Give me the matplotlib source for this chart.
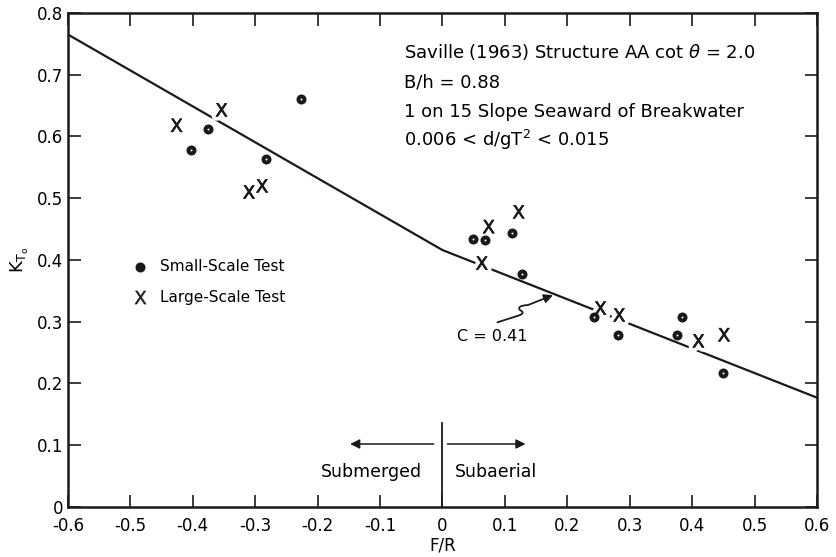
import matplotlib
matplotlib.use("Agg")
import matplotlib.pyplot as plt
import matplotlib.patheffects as pe
from matplotlib.patches import FancyArrowPatch
from matplotlib.path import Path

plt.rcParams['font.family'] = ['DejaVu Sans']

# Small-scale test results (F/R, K_To)
small_fr = [-0.403, -0.376, -0.283, -0.226, 0.049, 0.068, 0.111, 0.128,
            0.243, 0.281, 0.376, 0.384, 0.450]
small_kt = [0.578, 0.612, 0.564, 0.660, 0.434, 0.432, 0.443, 0.377,
            0.308, 0.279, 0.278, 0.308, 0.217]

# Large-scale test results (F/R, K_To)
large_fr = [-0.426, -0.354, -0.310, -0.289, 0.063, 0.074, 0.122,
            0.253, 0.283, 0.410, 0.451]
large_kt = [0.618, 0.643, 0.510, 0.520, 0.395, 0.454, 0.478,
            0.322, 0.311, 0.269, 0.279]

# Design curve for C = 0.41
curve_fr = [-0.6, 0.0, 0.6]
curve_kt = [0.765, 0.416, 0.177]

x_ticks = [-0.6, -0.5, -0.4, -0.3, -0.2, -0.1, 0, 0.1, 0.2, 0.3, 0.4, 0.5, 0.6]
x_labels = ["-0.6", "-0.5", "-0.4", "-0.3", "-0.2", "-0.1", "0",
            "0.1", "0.2", "0.3", "0.4", "0.5", "0.6"]
y_ticks = [0, 0.1, 0.2, 0.3, 0.4, 0.5, 0.6, 0.7, 0.8]
y_labels = ["0", "0.1", "0.2", "0.3", "0.4", "0.5", "0.6", "0.7", "0.8"]

ink = '#1a1a1a'

fig = plt.figure(figsize=(8.36, 5.57), dpi=100)
ax = fig.add_axes([0.0813, 0.0898, 0.896, 0.887])
ax.set_xlim(-0.6, 0.6)
ax.set_ylim(0, 0.8)

ax.plot(curve_fr, curve_kt, color=ink, lw=1.6, zorder=2)

# Large-scale crosses break the curve where they sit on it
xm = ax.scatter(large_fr, large_kt, s=90, marker=r'$\mathsf{X}$',
                color=ink, zorder=3, linewidths=0.3)
xm.set_path_effects([pe.withStroke(linewidth=6, foreground='white'), pe.Normal()])

ax.scatter(small_fr, small_kt, s=52, color=ink, zorder=5, linewidths=0)
ax.scatter(small_fr, small_kt, s=2, color='white', zorder=6, linewidths=0)

# Legend drawn by hand
ax.scatter([-0.485], [0.389], s=52, color=ink, linewidths=0)
ax.scatter([-0.485], [0.340], s=90, marker=r'$\mathsf{X}$', color=ink,
           linewidths=0.3)
ax.text(-0.452, 0.389, "Small-Scale Test", fontsize=11, va='center')
ax.text(-0.452, 0.340, "Large-Scale Test", fontsize=11, va='center')

# Test conditions
txt_x = -0.062
ax.text(txt_x, 0.736, r"Saville (1963) Structure AA cot $\theta$ = 2.0",
        fontsize=13, va='center')
ax.text(txt_x, 0.688, "B/h = 0.88", fontsize=13, va='center')
ax.text(txt_x, 0.640, "1 on 15 Slope Seaward of Breakwater", fontsize=13, va='center')
ax.text(txt_x, 0.594, r"0.006 < d/gT$^2$ < 0.015", fontsize=13, va='center')

# Curve label with a wavy leader arrow
ax.text(0.023, 0.276, "C = 0.41", fontsize=11.5, va='center')
leader = Path(
    [(0.088, 0.299), (0.122, 0.310), (0.134, 0.314), (0.124, 0.319),
     (0.118, 0.326), (0.137, 0.327), (0.177, 0.343)],
    [Path.MOVETO, Path.LINETO, Path.CURVE3, Path.CURVE3,
     Path.CURVE3, Path.CURVE3, Path.LINETO])
ax.add_patch(FancyArrowPatch(path=leader, arrowstyle='-|>', mutation_scale=13,
                             color=ink, lw=1.3, transform=ax.transData))

# Submerged / subaerial divider
ax.plot([0, 0], [0, 0.136], color=ink, lw=1.3)
ax.annotate("", xy=(-0.148, 0.102), xytext=(-0.014, 0.102),
            arrowprops=dict(arrowstyle='-|>', color=ink, lw=1.1,
                            mutation_scale=14, shrinkA=0, shrinkB=0))
ax.annotate("", xy=(0.133, 0.102), xytext=(0.008, 0.102),
            arrowprops=dict(arrowstyle='-|>', color=ink, lw=1.1,
                            mutation_scale=14, shrinkA=0, shrinkB=0))
ax.text(-0.033, 0.056, "Submerged", fontsize=12.5, ha='right', va='center')
ax.text(0.020, 0.056, "Subaerial", fontsize=12.5, ha='left', va='center')

ax.set_xticks(x_ticks)
ax.set_xticklabels(x_labels)
ax.set_yticks(y_ticks)
ax.set_yticklabels(y_labels)
ax.tick_params(direction='in', length=9, width=1.2, labelsize=12,
               top=True, right=True, color=ink)
ax.tick_params(axis='x', pad=7)
for s in ax.spines.values():
    s.set_linewidth(1.8)
    s.set_color(ink)

ax.set_xlabel("F/R", fontsize=12, labelpad=1)
ax.set_ylabel(r"$\mathsf{K_{T_o}}$", fontsize=13, labelpad=4)

fig.savefig("out.png", dpi=100, facecolor='white')
